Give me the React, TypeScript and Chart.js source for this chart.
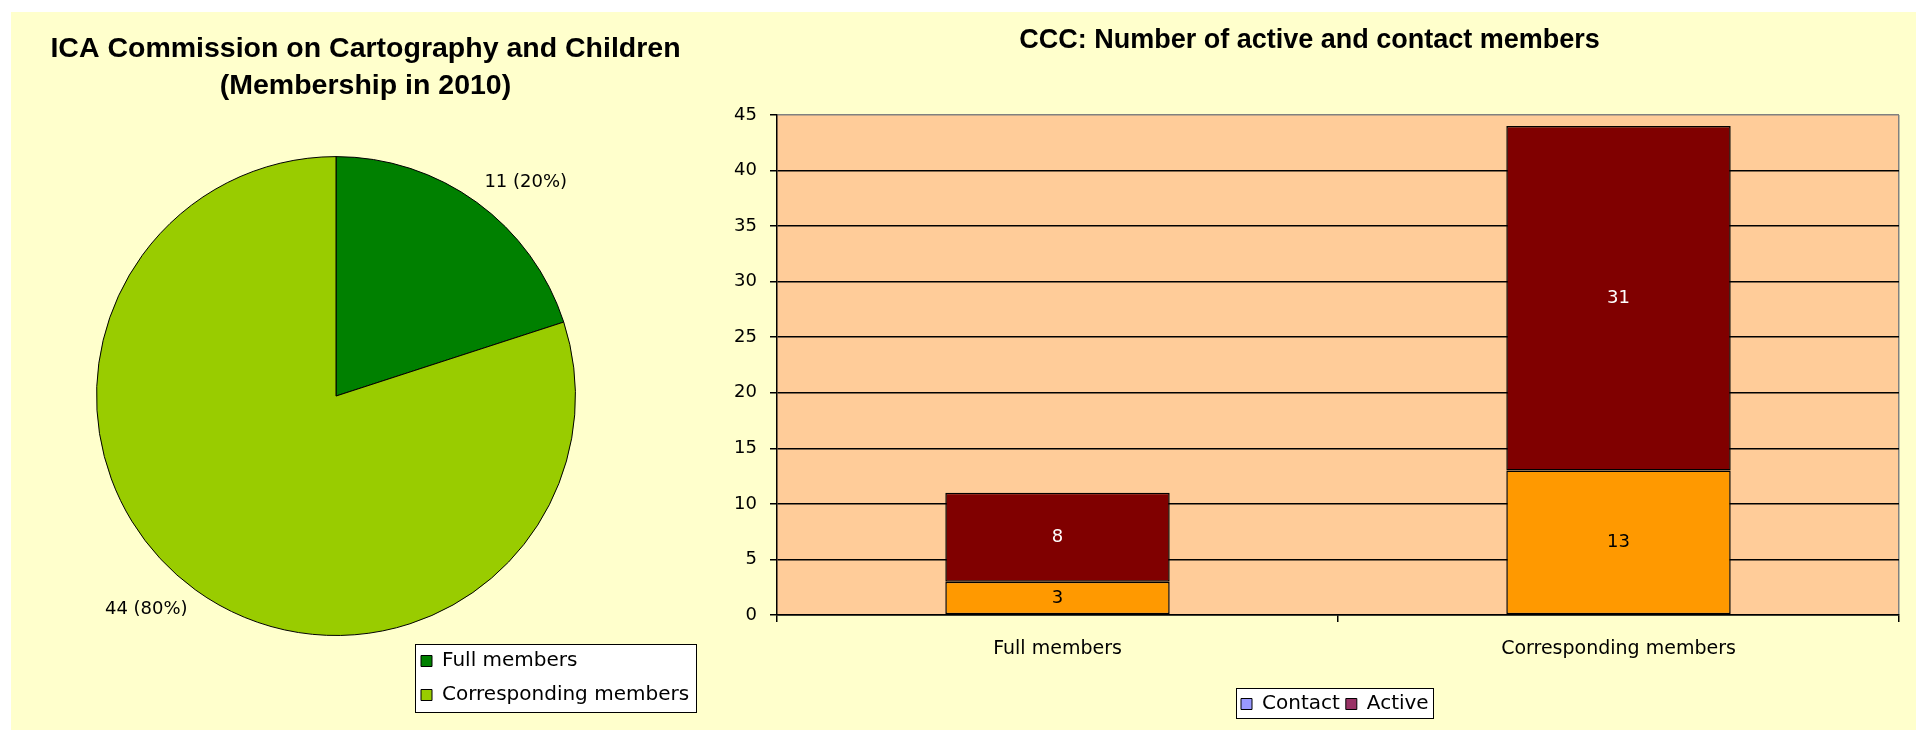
import React, { useEffect, useRef } from "react";
import { Chart, registerables } from "chart.js";

Chart.register(...registerables);

// ---------------- data ----------------
const pieTitle = ["ICA Commission on Cartography and Children", "(Membership in 2010)"];
const pieCategories = ["Full members", "Corresponding members"];
const pieValues = [11, 44];

const barTitle = "CCC: Number of active and contact members";
const barCategories = ["Full members", "Corresponding members"];
const seriesNames = ["Contact", "Active"];
const contactValues = [3, 13];
const activeValues = [8, 31];
const yMin = 0;
const yMax = 45;
const yStep = 5;

// ---------------- styles ----------------
const CREAM = "#FFFFCC";
const PLOT_BG = "#FFCC99";
const pieColors = ["#008000", "#99CC00"];
const barColors = ["#FF9900", "#800000"];
const barLabelColors = ["#000000", "#FFFFFF"];
const legendSwatches = ["#9999FF", "#993366"];
const FONT = "'DejaVu Sans', sans-serif";
const TITLE_FONT = "'Liberation Sans', Arial, sans-serif";

// legend placement + frame + plot background + full-width title
const framePlugin = {
  id: "frame",
  afterLayout(chart: any, _a: any, opts: any) {
    const lg = chart.legend;
    if (lg && opts && opts.x !== undefined) {
      const w = lg.width;
      const h = lg.height;
      lg.left = opts.x;
      lg.top = opts.y;
      lg.right = opts.x + w;
      lg.bottom = opts.y + h;
    }
    const tb = chart.titleBlock;
    if (tb && opts && opts.titleFull) {
      tb.left = 0;
      tb.right = chart.width;
      tb.width = chart.width;
    }
  },
  beforeDraw(chart: any, _a: any, opts: any) {
    const ctx = chart.ctx;
    const ca = chart.chartArea;
    ctx.save();
    if (opts && opts.plotBg) {
      ctx.fillStyle = opts.plotBg;
      ctx.fillRect(ca.left, ca.top, ca.right - ca.left, ca.bottom - ca.top);
    }
    const lg = chart.legend;
    const hb = lg && lg.legendHitBoxes;
    const m = (opts && opts.m) || [8, 8, 8, 8];
    if (hb && hb.length) {
      let l = Infinity, t = Infinity, r = -Infinity, b = -Infinity;
      hb.forEach((h: any) => {
        l = Math.min(l, h.left);
        t = Math.min(t, h.top);
        r = Math.max(r, h.left + h.width);
        b = Math.max(b, h.top + h.height);
      });
      const x0 = Math.round(l - m[0]) + 0.5;
      const y0 = Math.round(t - m[1]) + 0.5;
      const x1 = Math.round(r + m[2]) + 0.5;
      const y1 = Math.round(b + m[3]) + 0.5;
      ctx.fillStyle = "#FFFFFF";
      ctx.fillRect(x0, y0, x1 - x0, y1 - y0);
      ctx.strokeStyle = "#000000";
      ctx.lineWidth = 1;
      ctx.strokeRect(x0, y0, x1 - x0, y1 - y0);
    }
    ctx.restore();
  },
};

const pieLabelPlugin = {
  id: "pieLabels",
  afterDatasetsDraw(chart: any) {
    const ctx = chart.ctx;
    const meta = chart.getDatasetMeta(0);
    const data = chart.data.datasets[0].data as number[];
    const total = data.reduce((a, b) => a + b, 0);
    ctx.save();
    ctx.font = `18px ${FONT}`;
    ctx.fillStyle = "#000";
    meta.data.forEach((arc: any, i: number) => {
      const p = arc.getProps(["x", "y", "startAngle", "endAngle", "outerRadius"], true);
      const mid = (p.startAngle + p.endAngle) / 2;
      const r = p.outerRadius + 13;
      const ax = p.x + Math.cos(mid) * r;
      const ay = p.y + Math.sin(mid) * r;
      ctx.textAlign = Math.cos(mid) >= 0 ? "left" : "right";
      ctx.textBaseline = Math.sin(mid) < 0 ? "bottom" : "top";
      ctx.fillText(`${data[i]} (${Math.round((data[i] / total) * 100)}%)`, ax, ay);
    });
    ctx.restore();
  },
};

const barLabelPlugin = {
  id: "barLabels",
  afterDatasetsDraw(chart: any) {
    const ctx = chart.ctx;
    ctx.save();
    ctx.font = `18px ${FONT}`;
    ctx.textAlign = "center";
    ctx.textBaseline = "middle";
    chart.data.datasets.forEach((ds: any, di: number) => {
      const meta = chart.getDatasetMeta(di);
      ctx.fillStyle = barLabelColors[di];
      meta.data.forEach((el: any, i: number) => {
        const p = el.getProps(["x", "y", "base"], true);
        ctx.fillText(String(ds.data[i]), p.x, (p.y + p.base) / 2);
      });
    });
    ctx.restore();
  },
};

function PieChart() {
  const ref = useRef<HTMLCanvasElement>(null);
  useEffect(() => {
    const chart = new Chart(ref.current as HTMLCanvasElement, {
      type: "pie",
      data: {
        labels: pieCategories,
        datasets: [
          {
            data: pieValues,
            backgroundColor: pieColors,
            borderColor: "#000000",
            borderWidth: 1,
          },
        ],
      },
      options: {
        responsive: false,
        animation: false,
        events: [],
        layout: { padding: { left: 85, right: 144, top: 0, bottom: 94 } },
        plugins: {
          title: {
            display: true,
            text: pieTitle,
            color: "#000",
            font: { family: TITLE_FONT, size: 28.5, weight: "bold", lineHeight: 1.3 },
            padding: { top: 18.5, bottom: 51.5 },
          },
          legend: {
            display: true,
            position: "chartArea",
            align: "start",
            labels: {
              color: "#000",
              font: { family: FONT, size: 20 },
              boxWidth: 11,
              boxHeight: 11,
              padding: 14,
            },
          },
          tooltip: { enabled: false },
          frame: { x: 396, y: 625, m: [6, 7, 7, 7], titleFull: true },
        } as any,
      },
      plugins: [framePlugin, pieLabelPlugin],
    });
    return () => chart.destroy();
  }, []);
  return (
    <canvas
      ref={ref}
      width={709}
      height={718}
      style={{ position: "absolute", left: 0, top: 0, width: 709, height: 718 }}
    />
  );
}

function BarChart() {
  const ref = useRef<HTMLCanvasElement>(null);
  useEffect(() => {
    const chart = new Chart(ref.current as HTMLCanvasElement, {
      type: "bar",
      data: {
        labels: barCategories,
        datasets: [
          {
            label: seriesNames[0],
            data: contactValues,
            backgroundColor: barColors[0],
            borderColor: "#000000",
            borderWidth: 1.5,
            borderSkipped: false,
            barPercentage: 0.4,
            categoryPercentage: 1,
          },
          {
            label: seriesNames[1],
            data: activeValues,
            backgroundColor: barColors[1],
            borderColor: "#000000",
            borderWidth: 1.5,
            borderSkipped: false,
            barPercentage: 0.4,
            categoryPercentage: 1,
          },
        ],
      },
      options: {
        responsive: false,
        animation: false,
        events: [],
        layout: { padding: { left: 0, right: 17, top: 0, bottom: 0 } },
        scales: {
          x: {
            stacked: true,
            grid: {
              offset: true,
              drawOnChartArea: true,
              color: (c: any) => (c.type === "tick" ? "rgba(0,0,0,0)" : "#808080"),
              tickColor: "#000000",
              tickLength: 7,
              lineWidth: 1.5,
            },
            border: { display: true, color: "#000000", width: 1.5 },
            ticks: {
              color: "#000",
              font: { family: FONT, size: 19 },
              padding: 16,
              autoSkip: false,
              maxRotation: 0,
            },
            afterFit: (s: any) => {
              s.height = 79;
            },
          },
          y: {
            stacked: true,
            min: yMin,
            max: yMax,
            ticks: {
              stepSize: yStep,
              color: "#000",
              font: { family: FONT, size: 18 },
              padding: 13,
            },
            grid: {
              color: (c: any) => (c.tick && c.tick.value === yMax ? "#808080" : "#000000"),
              tickColor: "#000000",
              tickLength: 7,
              lineWidth: 1.5,
            },
            border: { display: true, color: "#000000", width: 1.5 },
            afterFit: (s: any) => {
              s.width = 57;
            },
          },
        },
        plugins: {
          title: {
            display: true,
            text: barTitle,
            color: "#000",
            font: { family: TITLE_FONT, size: 27, weight: "bold", lineHeight: 1.2 },
            padding: { top: 12, bottom: 58.6 },
          },
          legend: {
            display: true,
            position: "bottom",
            align: "start",
            labels: {
              color: "#000",
              font: { family: FONT, size: 20 },
              boxWidth: 11,
              boxHeight: 11,
              padding: 6,
              generateLabels: () =>
                seriesNames.map((t, i) => ({
                  text: t,
                  fillStyle: legendSwatches[i],
                  strokeStyle: "#000000",
                  lineWidth: 1,
                  hidden: false,
                  datasetIndex: i,
                  fontColor: "#000",
                })),
            },
          },
          tooltip: { enabled: false },
          frame: { x: 515, y: 676, plotBg: PLOT_BG, m: [5, 6, 4, 4] },
        } as any,
      },
      plugins: [framePlugin, barLabelPlugin],
    });
    return () => chart.destroy();
  }, []);
  return (
    <canvas
      ref={ref}
      width={1196}
      height={718}
      style={{ position: "absolute", left: 709, top: 0, width: 1196, height: 718 }}
    />
  );
}

export default function App() {
  return (
    <div style={{ position: "fixed", left: 0, top: 0, width: 1916, height: 730, background: "#FFFFFF", overflow: "hidden" }}>
      <div style={{ position: "absolute", left: 11, top: 12, width: 1905, height: 718, background: CREAM }}>
        <PieChart />
        <BarChart />
      </div>
    </div>
  );
}
